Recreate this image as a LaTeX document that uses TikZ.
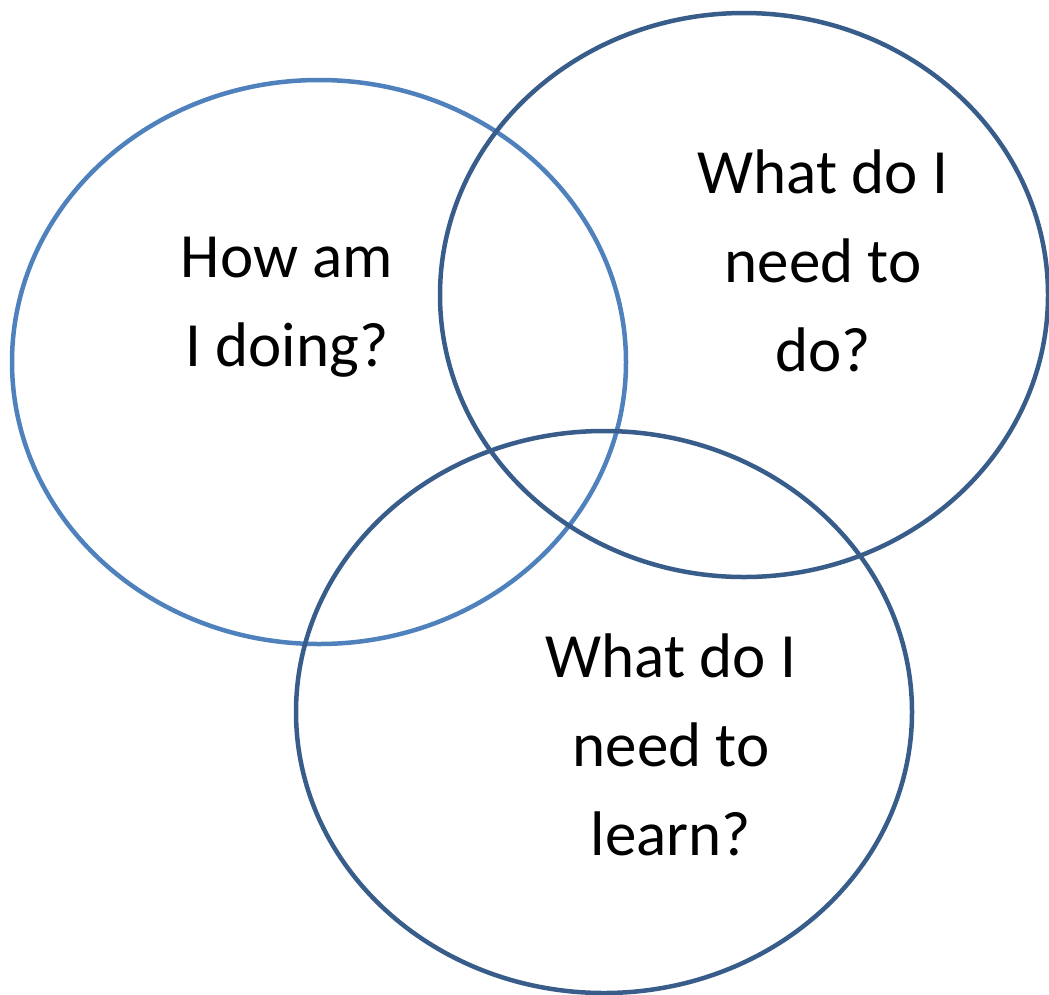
\documentclass[tikz,border=0pt]{standalone}
\usepackage{fontspec}
\setmainfont{Carlito}
\usetikzlibrary{shapes.geometric}
\definecolor{ringlight}{HTML}{4F81BD}
\definecolor{ringdark}{HTML}{385D8A}
\begin{document}
\begin{tikzpicture}[x=1pt,y=-1pt,
  ring/.style={ellipse, draw, line width=4.5pt, inner sep=0pt, outer sep=0pt},
  question/.style={align=center, anchor=base, inner sep=0pt,
    font=\fontsize{63}{89}\selectfont}]
  \useasboundingbox (0,0) rectangle (1049,994);
  % the three overlapping rings
  \node[ring, ringlight, minimum width=614pt, minimum height=564pt] (doing) at (319,362) {};
  \node[ring, ringdark, minimum width=608pt, minimum height=564pt] (todo) at (744,295) {};
  \node[ring, ringdark, minimum width=616pt, minimum height=562pt] (learn) at (604,712) {};
  % questions inside the rings (anchored at the baseline of their last line)
  \node[question] (qdoing) at (287,366) {How am\\I doing?};
  \node[question] (qtodo) at (823,371) {What do I\\need to\\do?};
  \node[question] (qlearn) at (671,855) {What do I\\need to\\learn?};
\end{tikzpicture}
\end{document}
